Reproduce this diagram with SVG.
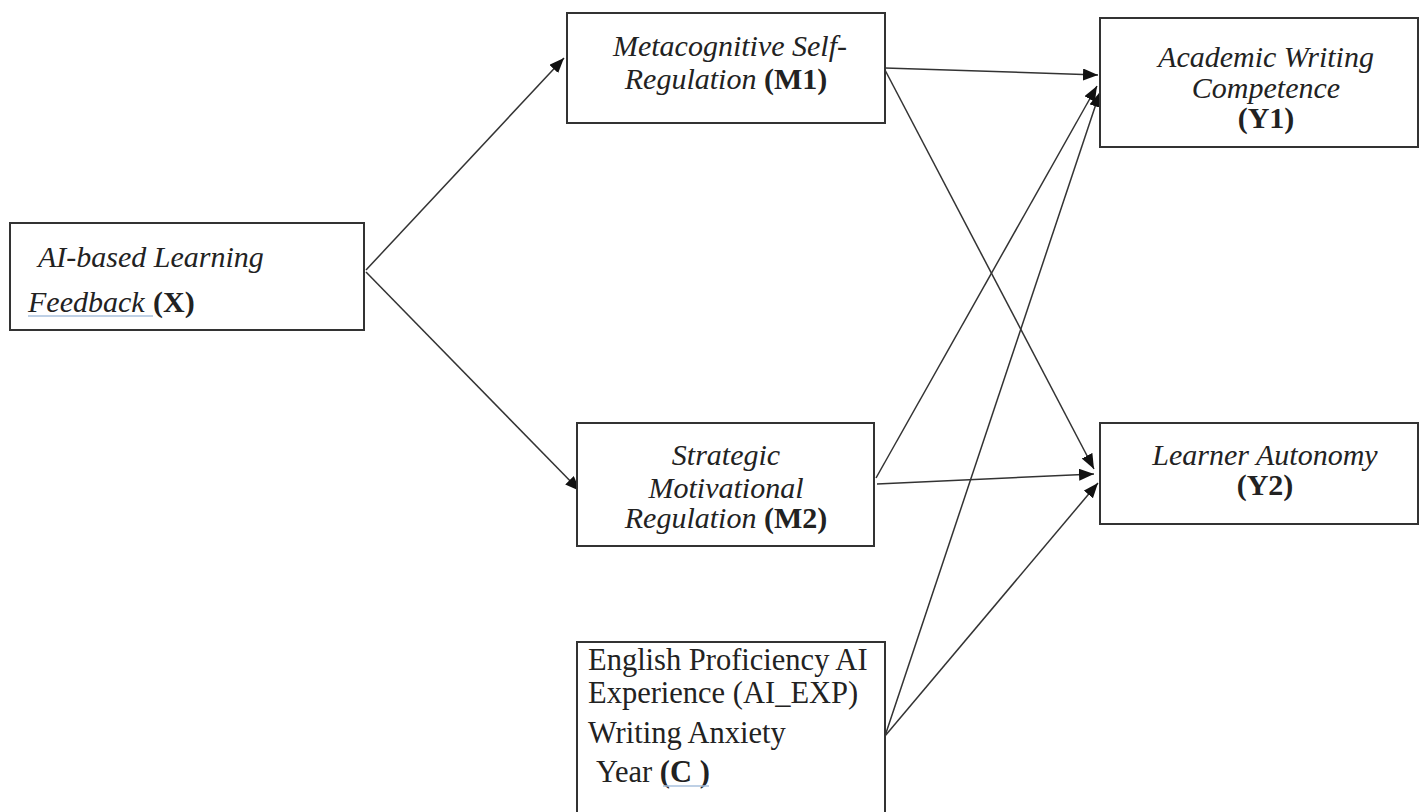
<svg xmlns="http://www.w3.org/2000/svg" width="1421" height="812" viewBox="0 0 1421 812">
<style>
.box{fill:#fff;stroke:#333;stroke-width:2}
.t{font-family:"Liberation Serif","Times New Roman",serif;font-size:30px;fill:#222}
.i{font-style:italic}
.b{font-weight:bold;font-style:normal}
.c{text-anchor:middle}
.r{font-size:30.5px}
.conn{stroke:#333;stroke-width:1.5;fill:none;marker-end:url(#ah)}
.ul{stroke:#a9c0dc;stroke-width:1.5}
</style>
<defs>
<marker id="ah" markerUnits="userSpaceOnUse" markerWidth="17" markerHeight="13" refX="15" refY="6" orient="auto">
<path d="M0,0 L15,6 L0,12 z" fill="#111"/>
</marker>
</defs>
<rect width="1421" height="812" fill="#fff"/>
<g id="connectors">
<line class="conn" x1="366" y1="270" x2="564" y2="58"/>
<line class="conn" x1="366" y1="272" x2="580" y2="491"/>
<line class="conn" x1="885" y1="68" x2="1098" y2="75"/>
<line class="conn" x1="885" y1="70" x2="1094" y2="469"/>
<line class="conn" x1="876" y1="478" x2="1097" y2="86"/>
<line class="conn" x1="877" y1="484" x2="1094" y2="474"/>
<line class="conn" x1="885" y1="736" x2="1100" y2="92"/>
<line class="conn" x1="885" y1="736" x2="1098" y2="483"/>
</g>
<g id="node-X">
<rect class="box" x="10" y="223" width="354" height="107"/>
<text class="t i" x="38" y="267">AI-based Learning</text>
<text class="t i" x="28" y="312">Feedback</text>
<text class="t b" x="153" y="312">(X)</text>
<line class="ul" x1="28" y1="316" x2="153" y2="316"/>
</g>
<g id="node-M1">
<rect class="box" x="567" y="13" width="318" height="110"/>
<text class="t i c" x="730" y="56">Metacognitive Self-</text>
<text class="t i c" x="726" y="89">Regulation <tspan class="b">(M1)</tspan></text>
</g>
<g id="node-M2">
<rect class="box" x="577" y="423" width="297" height="123"/>
<text class="t i c" x="726" y="465">Strategic</text>
<text class="t i c" x="726" y="498">Motivational</text>
<text class="t i c" x="726" y="528">Regulation <tspan class="b">(M2)</tspan></text>
</g>
<g id="node-Y1">
<rect class="box" x="1100" y="18" width="318" height="129"/>
<text class="t i c" x="1266" y="67">Academic Writing</text>
<text class="t i c" x="1266" y="98">Competence</text>
<text class="t b c" x="1266" y="128">(Y1)</text>
</g>
<g id="node-Y2">
<rect class="box" x="1100" y="423" width="318" height="101"/>
<text class="t i c" x="1265" y="465">Learner Autonomy</text>
<text class="t b c" x="1265" y="495">(Y2)</text>
</g>
<g id="node-C">
<rect class="box" x="577" y="642" width="308" height="190"/>
<text class="t r" x="588" y="670">English Proficiency AI</text>
<text class="t r" x="588" y="703">Experience (AI_EXP)</text>
<text class="t r" x="588" y="743">Writing Anxiety</text>
<text class="t r" x="596" y="782">Year <tspan class="b">(C )</tspan></text>
<line class="ul" x1="663" y1="786" x2="709" y2="786"/>
</g>
</svg>
